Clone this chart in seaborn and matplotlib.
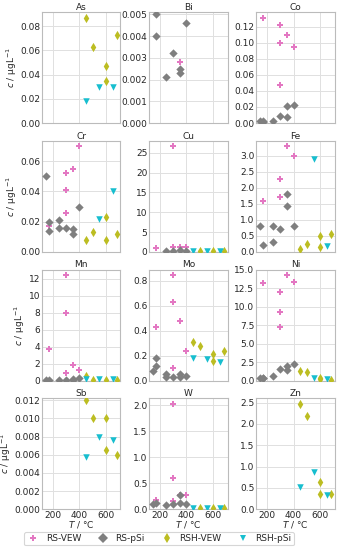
import numpy as np
import pandas as pd
import matplotlib
matplotlib.use("Agg")
import matplotlib.pyplot as plt
from matplotlib.ticker import MultipleLocator
from matplotlib.lines import Line2D
import seaborn as sns

sns.set_style("whitegrid")
plt.rcParams['font.family'] = ['DejaVu Sans']

SERIES = ["RS-VEW", "RS-pSi", "RSH-VEW", "RSH-pSi"]
ELEMENTS = ["As", "Bi", "Co", "Cr", "Cu", "Fe", "Mn", "Mo", "Ni", "Sb", "W", "Zn"]

# data: element -> series -> (temperatures, concentrations)
As = {"RSH-VEW": ([450, 500, 600, 600, 680], [0.087, 0.063, 0.047, 0.035, 0.073]),
      "RSH-pSi": ([450, 550, 650], [0.018, 0.030, 0.030])}
Bi = {"RS-VEW": ([350], [0.0028]),
      "RS-pSi": ([175, 175, 250, 300, 350, 350, 400],
                 [0.0050, 0.0040, 0.0021, 0.0032, 0.0025, 0.0023, 0.0046])}
Co = {"RS-VEW": ([175, 300, 300, 300, 350, 400], [0.131, 0.122, 0.099, 0.047, 0.109, 0.095]),
      "RS-pSi": ([150, 175, 175, 250, 300, 350, 350, 400],
                 [0.002, 0.002, 0.001, 0.003, 0.009, 0.007, 0.021, 0.022])}
Cr = {"RS-VEW": ([175, 300, 300, 300, 350, 400], [0.017, 0.052, 0.041, 0.026, 0.055, 0.070]),
      "RS-pSi": ([150, 175, 175, 250, 250, 300, 350, 350, 400],
                 [0.050, 0.020, 0.014, 0.021, 0.016, 0.016, 0.015, 0.012, 0.030]),
      "RSH-VEW": ([450, 500, 600, 600, 680], [0.008, 0.013, 0.023, 0.008, 0.012]),
      "RSH-pSi": ([550, 650], [0.022, 0.040])}
Cu = {"RS-VEW": ([175, 300, 300, 350, 400], [1.0, 26.7, 1.1, 1.3, 1.2]),
      "RS-pSi": ([250, 300, 350, 400], [0.15, 0.3, 0.5, 0.3]),
      "RSH-VEW": ([500, 600, 680], [0.1, 0.1, 0.1]),
      "RSH-pSi": ([450, 550, 650], [0.1, 0.1, 0.1])}
Fe = {"RS-VEW": ([175, 300, 300, 350, 400], [1.6, 2.27, 1.72, 3.3, 3.0]),
      "RS-pSi": ([150, 175, 250, 250, 300, 350, 350, 400],
                 [0.8, 0.2, 0.8, 0.3, 0.7, 1.82, 1.42, 0.8]),
      "RSH-VEW": ([450, 500, 600, 600, 680], [0.08, 0.26, 0.5, 0.15, 0.57]),
      "RSH-pSi": ([550, 650], [2.9, 0.18])}
Mn = {"RS-VEW": ([175, 300, 300, 300, 350, 400], [3.7, 12.5, 8.0, 0.85, 1.8, 1.3]),
      "RS-pSi": ([150, 175, 250, 300, 350, 350, 400], [0.1, 0.1, 0.05, 0.1, 0.2, 0.1, 0.3]),
      "RSH-VEW": ([450, 500, 600, 680], [0.5, 0.1, 0.1, 0.1]),
      "RSH-pSi": ([450, 550, 650], [0.15, 0.15, 0.15])}
Mo = {"RS-VEW": ([175, 300, 300, 300, 350, 400], [0.43, 0.85, 0.63, 0.10, 0.48, 0.24]),
      "RS-pSi": ([150, 175, 175, 250, 250, 300, 350, 350, 400],
                 [0.08, 0.18, 0.12, 0.05, 0.03, 0.03, 0.05, 0.03, 0.035]),
      "RSH-VEW": ([450, 500, 600, 600, 680], [0.31, 0.28, 0.21, 0.16, 0.24]),
      "RSH-pSi": ([450, 550, 650], [0.18, 0.17, 0.15])}
Ni = {"RS-VEW": ([175, 300, 300, 300, 350, 400], [13.2, 12.0, 9.2, 7.3, 14.3, 13.3]),
      "RS-pSi": ([150, 175, 175, 250, 300, 350, 350, 400], [0.4, 0.4, 0.3, 0.6, 1.5, 2.0, 1.4, 2.3]),
      "RSH-VEW": ([450, 500, 600, 600, 680], [1.3, 1.1, 0.3, 0.2, 0.1]),
      "RSH-pSi": ([550, 650], [0.3, 0.2])}
Sb = {"RSH-VEW": ([450, 500, 600, 600, 680], [0.0120, 0.0100, 0.0100, 0.0065, 0.0060]),
      "RSH-pSi": ([450, 550, 650], [0.0058, 0.0080, 0.0076])}
W = {"RS-VEW": ([175, 300, 300, 300, 350, 400], [0.18, 2.03, 0.60, 0.15, 0.28, 0.27]),
     "RS-pSi": ([150, 175, 250, 300, 350, 350, 400], [0.10, 0.13, 0.09, 0.10, 0.27, 0.12, 0.10]),
     "RSH-VEW": ([500, 600, 680], [0.02, 0.02, 0.02]),
     "RSH-pSi": ([450, 550, 650], [0.02, 0.02, 0.02])}
Zn = {"RSH-VEW": ([450, 500, 600, 600, 680], [2.47, 2.18, 0.65, 0.35, 0.36]),
      "RSH-pSi": ([450, 550, 650], [0.52, 0.88, 0.33])}

DATA = [As, Bi, Co, Cr, Cu, Fe, Mn, Mo, Ni, Sb, W, Zn]

# style
YTOP = [0.0915, 0.0051, 0.138, 0.0735, 28.0, 3.47, 13.1, 0.89, 15.0, 0.0122, 2.13, 2.6]
YSTEP = [0.02, 0.001, 0.02, 0.02, 5, 0.5, 2, 0.2, 2.5, 0.002, 0.5, 0.5]
PALETTE = {"RS-VEW": "#e377c2", "RS-pSi": "#7f7f7f", "RSH-VEW": "#bcbd22", "RSH-pSi": "#17becf"}
MARKERS = {"RS-VEW": "P", "RS-pSi": "D", "RSH-VEW": "d", "RSH-pSi": "v"}
SIZES = {"RS-VEW": 22, "RS-pSi": 18, "RSH-VEW": 22, "RSH-pSi": 22}

FS = 6.5
fig, axes = plt.subplots(4, 3, figsize=(3.38, 5.5), dpi=100, sharex=True)
fig.subplots_adjust(left=0.125, right=0.99, top=0.978, bottom=0.074, wspace=0.37, hspace=0.16)

for i, (el, d) in enumerate(zip(ELEMENTS, DATA)):
    ax = axes.flat[i]
    rows = []
    for s in SERIES:
        if s in d:
            for t, c in zip(*d[s]):
                rows.append({"T": t, "c": c, "series": s})
    df = pd.DataFrame(rows)
    for s in SERIES:
        sub = df[df.series == s]
        if len(sub) == 0:
            continue
        sns.scatterplot(data=sub, x="T", y="c", ax=ax, color=PALETTE[s], marker=MARKERS[s],
                        s=SIZES[s], linewidth=0, legend=False, zorder=3)
    ax.set_title(el, fontsize=FS, pad=1.5)
    ax.set_ylim(0, YTOP[i])
    ax.yaxis.set_major_locator(MultipleLocator(YSTEP[i]))
    ax.xaxis.set_major_locator(MultipleLocator(200))
    ax.tick_params(labelsize=FS, pad=1.5, length=0)
    ax.set_xlabel("")
    ax.set_ylabel("")
    for sp in ax.spines.values():
        sp.set_color("#bbbbbb")
        sp.set_linewidth(0.8)
    ax.grid(color="#e0e0e0", linewidth=0.7)
    if i % 3 == 0:
        ax.set_ylabel(r"$c$ / µgL$^{-1}$", fontsize=FS, labelpad=1)
    if i >= 9:
        ax.set_xlabel(r"$T$ / °C", fontsize=FS, labelpad=-1)

axes.flat[0].set_xlim(123.5, 706.5)

handles = [Line2D([0], [0], marker=MARKERS[s], color="none", markerfacecolor=PALETTE[s],
                  markeredgewidth=0, markersize=5, label=s) for s in SERIES]
leg = fig.legend(handles=handles, loc="lower center", ncol=4, fontsize=FS,
                 bbox_to_anchor=(0.47, 0.0), frameon=True, handletextpad=0.6,
                 columnspacing=1.6, borderpad=0.25, handlelength=1.6)
leg.get_frame().set_edgecolor("#cccccc")
leg.get_frame().set_linewidth(0.8)

fig.savefig("out.png", dpi=100)
